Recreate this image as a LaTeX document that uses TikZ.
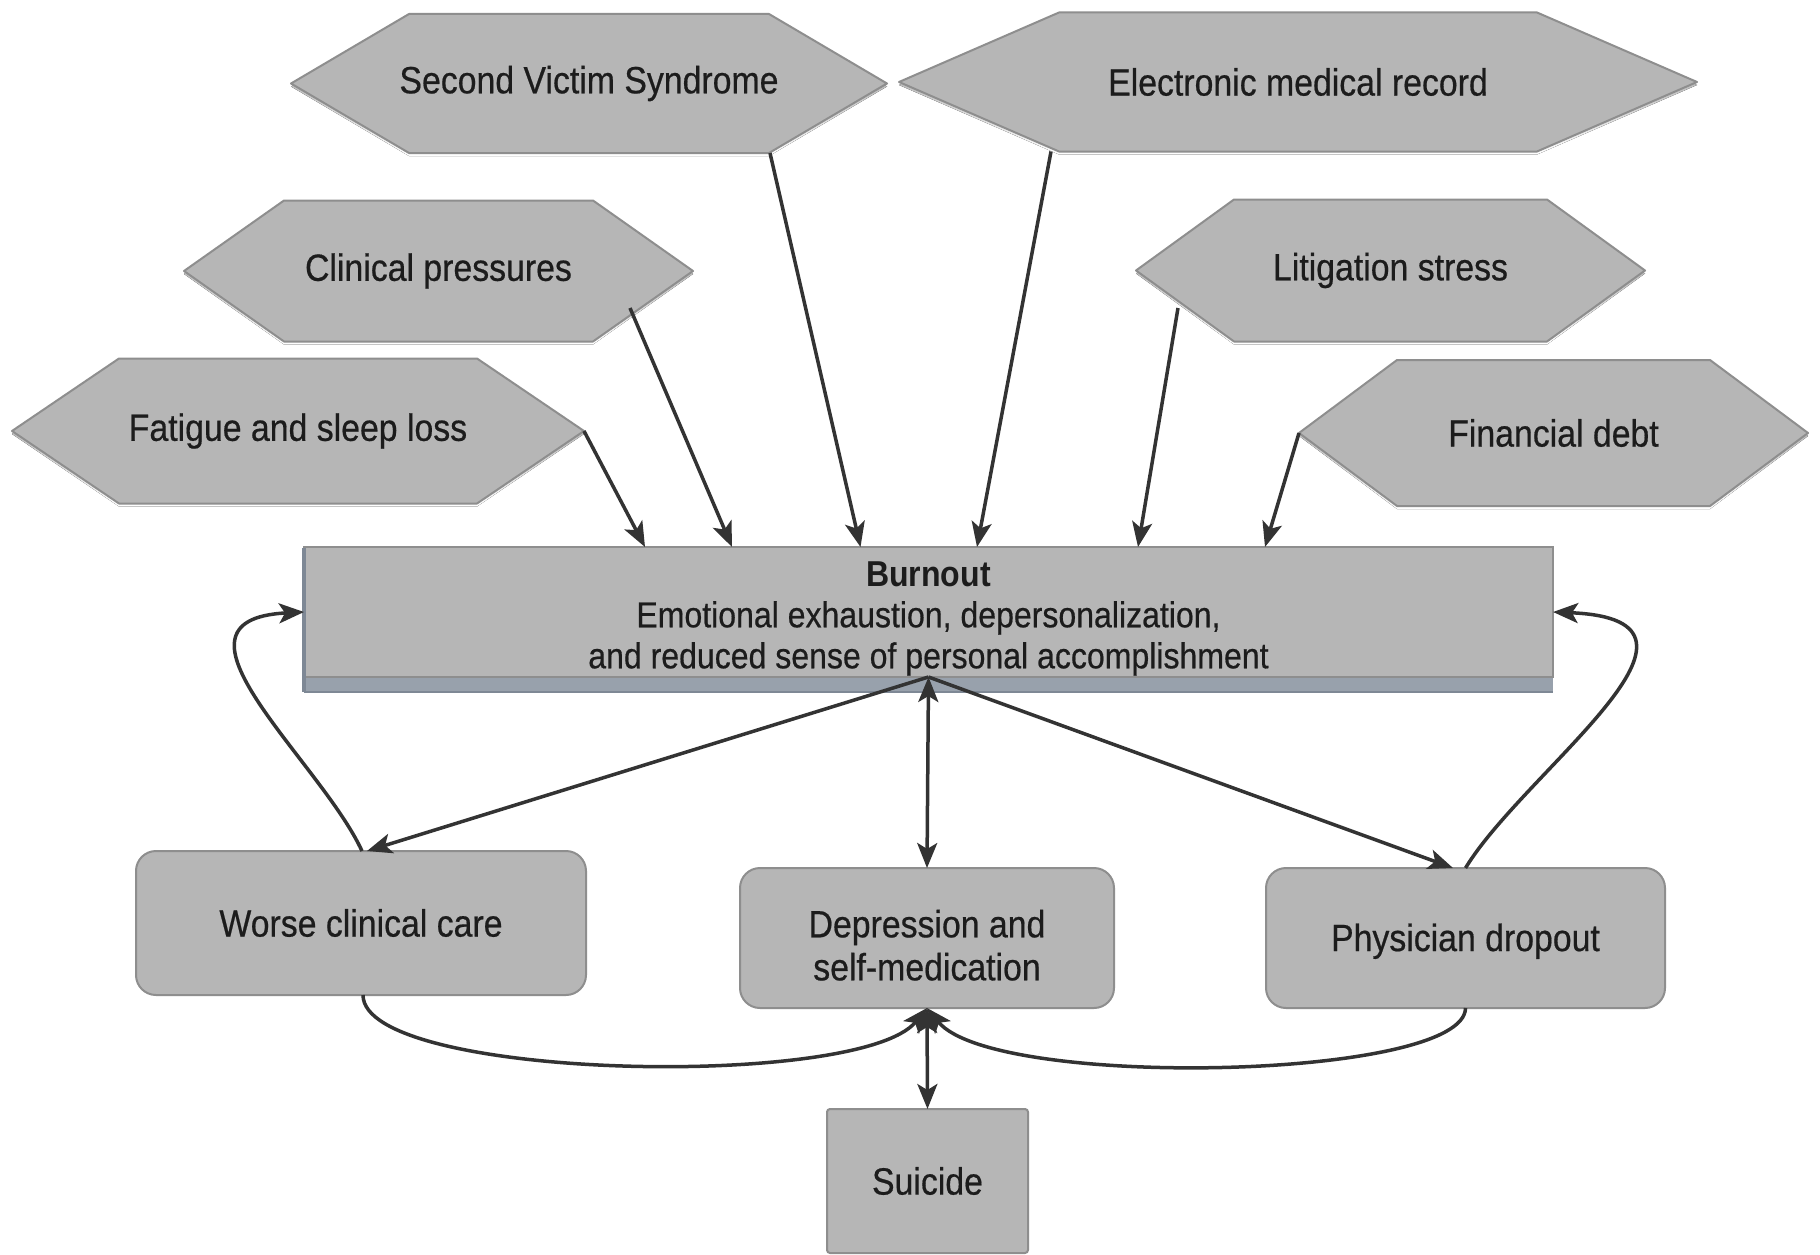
\documentclass[tikz,border=0pt]{standalone}
\usepackage{fontspec}
\setmainfont{Liberation Sans}[FakeStretch=0.89, UprightFeatures={FakeBold=0.5}]
\usetikzlibrary{arrows.meta,calc}
\pgfdeclarelayer{bg}
\pgfdeclarelayer{back}
\pgfsetlayers{back,bg,main}
\definecolor{boxfill}{HTML}{B6B6B6}
\definecolor{boxline}{HTML}{8E8E8E}
\definecolor{shade}{HTML}{9A9A9A}
\definecolor{arr}{HTML}{333333}
\definecolor{bluebar}{HTML}{98A1AC}
\definecolor{blueedge}{HTML}{7E8895}
\definecolor{txt}{HTML}{1C1C1C}
\newcommand\hexdraw[2]{%
  \begin{pgfonlayer}{bg}
    \fill[shade]
      ([yshift=-3pt]#1.west) -- ([xshift=#2pt,yshift=-3pt]#1.north west) -- ([xshift=-#2pt,yshift=-3pt]#1.north east)
      -- ([yshift=-3pt]#1.east) -- ([xshift=-#2pt,yshift=-3pt]#1.south east) -- ([xshift=#2pt,yshift=-3pt]#1.south west) -- cycle;
    \filldraw[fill=boxfill, draw=boxline, line width=2pt, line join=round]
      (#1.west) -- ([xshift=#2pt]#1.north west) -- ([xshift=-#2pt]#1.north east)
      -- (#1.east) -- ([xshift=-#2pt]#1.south east) -- ([xshift=#2pt]#1.south west) -- cycle;
  \end{pgfonlayer}}
\begin{document}
\begin{tikzpicture}[x=1pt,y=-1pt,
  lbl/.style={font=\fontsize{38}{43}\selectfont, text=txt, align=center, inner sep=0pt, outer sep=0pt},
  hexnode/.style={lbl, shape=rectangle},
  roundbox/.style={lbl, shape=rectangle, fill=boxfill, draw=boxline, line width=2pt, rounded corners=20pt},
  squarebox/.style={lbl, shape=rectangle, fill=boxfill, draw=boxline, line width=2pt, rounded corners=3pt},
  tip/.tip={Stealth[length=25pt,width=20pt,inset=6pt]},
  conn/.style={draw=arr, line width=3.5pt, -tip},
  dconn/.style={draw=arr, line width=3.5pt, tip-tip}]
\useasboundingbox (0,0) rectangle (1820,1255);
\begin{pgfonlayer}{back}
\fill[white] (0,0) rectangle (1820,1255);
\end{pgfonlayer}

% hexagons
\node[hexnode, minimum width=596pt, minimum height=139pt] (svs) at (589,83.5) {Second Victim Syndrome};
\hexdraw{svs}{118}
\node[hexnode, minimum width=798pt, minimum height=139pt] (emr) at (1298,82) {Electronic medical record};
\hexdraw{emr}{160}
\node[hexnode, minimum width=509pt, minimum height=141pt] (clp) at (438.5,271) {Clinical pressures};
\hexdraw{clp}{100}
\node[hexnode, minimum width=509pt, minimum height=142pt] (lit) at (1390.5,270.5) {Litigation stress};
\hexdraw{lit}{98}
\node[hexnode, minimum width=572pt, minimum height=145pt] (fat) at (298,431) {Fatigue and sleep loss};
\hexdraw{fat}{107}
\node[hexnode, minimum width=509pt, minimum height=146pt] (fin) at (1553.5,433) {Financial debt};
\hexdraw{fin}{98}

% burnout box
\fill[bluebar] (304,677) rectangle (1553,692);
\draw[blueedge, line width=1.5pt] (304,692) -- (1553,692);
\node[lbl, shape=rectangle, fill=boxfill, draw=boxline, line width=2pt,
      minimum width=1249pt, minimum height=130pt, font=\fontsize{36}{41}\selectfont] (burnout) at (928.5,612)
  {\rule{0pt}{38pt}{\bfseries Burnout}\\Emotional exhaustion, depersonalization,\\and reduced sense of personal accomplishment};
\draw[blueedge, line width=4pt] ([yshift=-1pt]burnout.north west) -- (304,692);

% outcome boxes
\node[roundbox, minimum width=450pt, minimum height=144pt] (wcc) at (361,923) {Worse clinical care};
\node[roundbox, minimum width=374pt, minimum height=140pt] (dep) at (927,938) {\rule{0pt}{42pt}Depression and\\self-medication};
\node[roundbox, minimum width=399pt, minimum height=140pt] (pdo) at (1465.5,938) {\rule{0pt}{34pt}Physician dropout};
\node[squarebox, minimum width=201pt, minimum height=144pt] (sui) at (927.5,1181) {Suicide};

% causes -> burnout
\draw[conn] ([xshift=181pt]svs.south) -- ([xshift=-68pt]burnout.north);
\draw[conn] ([xshift=-247pt]emr.south) -- ([xshift=48.5pt]burnout.north);
\draw[conn] ($(clp.center)+(191.5,37)$) -- ([xshift=-196.5pt]burnout.north);
\draw[conn] ($(lit.center)+(-212.5,37.5)$) -- ([xshift=209.5pt]burnout.north);
\draw[conn] (fat.east) -- ([xshift=-283.5pt]burnout.north);
\draw[conn] (fin.west) -- ([xshift=336.5pt]burnout.north);

% burnout -> outcomes
\draw[conn] (burnout.south) -- ([xshift=6pt]wcc.north);
\draw[conn] (burnout.south) -- ([xshift=-12.5pt]pdo.north);
\draw[dconn] (burnout.south) -- (dep.north);

% feedback loops to burnout
\draw[conn] ([xshift=1pt]wcc.north) .. controls (320,760) and (150,620) .. (burnout.west);
\draw[conn] (pdo.north) .. controls (1525,770) and (1745,620) .. (burnout.east);

% outcomes -> depression
\draw[conn] ([xshift=2pt]wcc.south) .. controls (363,1080) and (860,1090) .. (dep.south);
\draw[conn] (pdo.south) .. controls (1465,1080) and (994,1090) .. (dep.south);
\draw[dconn] (dep.south) -- (sui.north);
\end{tikzpicture}
\end{document}
